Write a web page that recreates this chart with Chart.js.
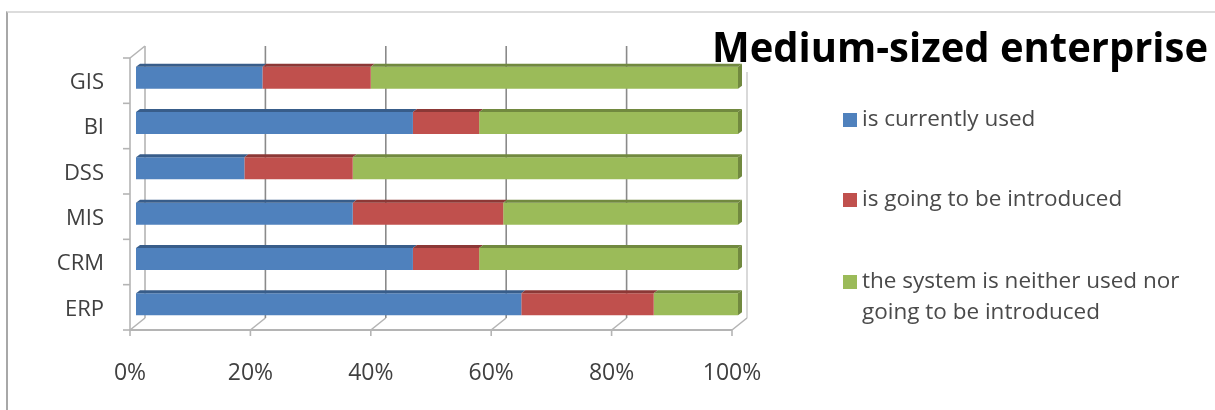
<!DOCTYPE html>
<html>
<head>
<meta charset="utf-8">
<script src="https://cdn.jsdelivr.net/npm/chart.js@4.4.1/dist/chart.umd.min.js"></script>
<style>
  html, body { margin: 0; padding: 0; background: #fff; }
  #wrap { position: relative; width: 1215px; height: 410px; overflow: hidden; }
  #frame { position: absolute; left: 6px; top: 11px; right: -2px; bottom: -2px;
           border-top: 2px solid #dcdcdc; border-left: 2px solid #a8a8a8; }
  canvas { position: absolute; left: 0; top: 0; }
</style>
</head>
<body>
<div id="wrap">
  <div id="frame"></div>
  <canvas id="chart" width="1215" height="410"></canvas>
</div>
<script>
// Data
const categories = ['GIS', 'BI', 'DSS', 'MIS', 'CRM', 'ERP'];
const currentlyUsed = [21, 46, 18, 36, 46, 64];
const goingToBeIntroduced = [18, 11, 18, 25, 11, 22];
const neitherUsedNorIntroduced = [61, 43, 64, 39, 43, 14];
const xTicks = [0, 20, 40, 60, 80, 100];
const titleText = 'Medium-sized enterprise';
const legendLines = [
    ['is currently used'],
    ['is going to be introduced'],
    ['the system is neither used nor', 'going to be introduced']
];

// Colours (front face / top face)
const fronts = ['#4f81bd', '#c0504d', '#9bbb59'];
const tops = ['#385d8a', '#8c3836', '#71893f'];

// 3D offsets relative to bar plane
const BACK = { dx: 9, dy: -9 };
const FRONT = { dx: -6, dy: 3 };
const BAR_DEPTH = { dx: 4, dy: -3 };

const line = (ctx, x1, y1, x2, y2) => {
    ctx.beginPath();
    ctx.moveTo(x1, y1);
    ctx.lineTo(x2, y2);
    ctx.stroke();
};

// Walls, floor and gridlines
const wallsPlugin = {
    id: 'walls',
    beforeDatasetsDraw(chart) {
        const { ctx, chartArea: a, scales: { x } } = chart;
        const x0 = x.getPixelForValue(0);
        const x100 = x.getPixelForValue(100);
        ctx.save();
        ctx.lineCap = 'butt';

        // back gridlines
        ctx.strokeStyle = '#8a8a8a';
        ctx.lineWidth = 1.6;
        xTicks.slice(1, -1).forEach(v => {
            const px = x.getPixelForValue(v) + BACK.dx;
            line(ctx, px, a.top + BACK.dy, px, a.bottom + BACK.dy);
        });

        // left wall
        ctx.strokeStyle = '#b4b4b4';
        ctx.lineWidth = 1.6;
        line(ctx, x0 + BACK.dx, a.top + BACK.dy, x0 + BACK.dx, a.bottom + BACK.dy);
        line(ctx, x0 + FRONT.dx, a.top + FRONT.dy, x0 + FRONT.dx, a.bottom + FRONT.dy);
        line(ctx, x0 + FRONT.dx, a.top + FRONT.dy, x0 + BACK.dx, a.top + BACK.dy);

        // right edge of back wall
        ctx.strokeStyle = '#d0d0d0';
        line(ctx, x100 + BACK.dx, a.top + 17, x100 + BACK.dx, a.bottom + BACK.dy);

        // floor
        ctx.strokeStyle = '#b4b4b4';
        xTicks.forEach(v => {
            const px = x.getPixelForValue(v);
            line(ctx, px + BACK.dx, a.bottom + BACK.dy, px + FRONT.dx, a.bottom + FRONT.dy);
            line(ctx, px + FRONT.dx, a.bottom + FRONT.dy, px + FRONT.dx, a.bottom + FRONT.dy + 6);
        });
        ctx.lineWidth = 2;
        line(ctx, x0 + FRONT.dx, a.bottom + FRONT.dy, x100 + FRONT.dx, a.bottom + FRONT.dy);

        // category ticks on the left
        ctx.lineWidth = 1.6;
        const band = (a.bottom - a.top) / categories.length;
        for (let i = 0; i <= categories.length; i++) {
            const py = a.top + FRONT.dy + i * band;
            line(ctx, x0 + FRONT.dx - 7, py, x0 + FRONT.dx, py);
        }
        ctx.restore();
    },
    afterDatasetsDraw(chart) {
        const { ctx } = chart;
        ctx.save();
        const last = chart.data.datasets.length - 1;
        chart.data.datasets.forEach((ds, di) => {
            chart.getDatasetMeta(di).data.forEach(el => {
                const left = Math.min(el.x, el.base);
                const right = Math.max(el.x, el.base);
                const top = el.y - el.height / 2;
                const bottom = el.y + el.height / 2;
                ctx.fillStyle = tops[di];
                ctx.beginPath();
                ctx.moveTo(left, top);
                ctx.lineTo(right, top);
                ctx.lineTo(right + BAR_DEPTH.dx, top + BAR_DEPTH.dy);
                ctx.lineTo(left + BAR_DEPTH.dx, top + BAR_DEPTH.dy);
                ctx.closePath();
                ctx.fill();
                if (di === last) {
                    ctx.beginPath();
                    ctx.moveTo(right, top);
                    ctx.lineTo(right + BAR_DEPTH.dx, top + BAR_DEPTH.dy);
                    ctx.lineTo(right + BAR_DEPTH.dx, bottom + BAR_DEPTH.dy);
                    ctx.lineTo(right, bottom);
                    ctx.closePath();
                    ctx.fill();
                }
            });
        });
        ctx.restore();
    }
};

// Title and legend on the right
const sidePlugin = {
    id: 'side',
    afterDraw(chart) {
        const { ctx } = chart;
        ctx.save();
        ctx.fillStyle = '#000';
        ctx.font = 'bold 42px "Open Sans"';
        ctx.textBaseline = 'alphabetic';
        ctx.textAlign = 'left';
        ctx.fillText(titleText, 712, 62, 496);

        const rows = [120, 200, 282];
        ctx.font = '22.5px "Open Sans"';
        ctx.textBaseline = 'middle';
        chart.data.datasets.forEach((ds, i) => {
            ctx.fillStyle = ds.backgroundColor;
            ctx.fillRect(843, rows[i] - 7, 14, 14);
            ctx.fillStyle = '#4a4a4a';
            legendLines[i].forEach((txt, k) => {
                ctx.fillText(txt, 862, rows[i] + k * 31);
            });
        });
        ctx.restore();
    }
};

const ctx = document.getElementById('chart').getContext('2d');
new Chart(ctx, {
    type: 'bar',
    data: {
        labels: categories,
        datasets: [
            { label: legendLines[0].join(' '), data: currentlyUsed, backgroundColor: fronts[0] },
            { label: legendLines[1].join(' '), data: goingToBeIntroduced, backgroundColor: fronts[1] },
            { label: legendLines[2].join(' '), data: neitherUsedNorIntroduced, backgroundColor: fronts[2] }
        ]
    },
    options: {
        indexAxis: 'y',
        responsive: false,
        animation: false,
        barPercentage: 0.486,
        categoryPercentage: 1,
        layout: { padding: { top: 55, right: 477, left: 0, bottom: 0 } },
        plugins: {
            legend: { display: false },
            title: { display: false },
            tooltip: { enabled: false }
        },
        scales: {
            x: {
                stacked: true,
                min: 0,
                max: 100,
                afterFit: (scale) => { scale.height = 83; },
                afterBuildTicks: (scale) => { scale.ticks = xTicks.map(v => ({ value: v })); },
                grid: { display: false, drawTicks: false },
                border: { display: false },
                ticks: {
                    padding: 33,
                    labelOffset: -6,
                    color: '#404040',
                    font: { family: 'Open Sans', size: 23 },
                    callback: (v) => v + '%'
                }
            },
            y: {
                stacked: true,
                afterFit: (scale) => { scale.width = 136; },
                grid: { display: false, drawTicks: false },
                border: { display: false },
                ticks: {
                    padding: 32,
                    labelOffset: 5,
                    color: '#404040',
                    font: { family: 'Open Sans', size: 22 }
                }
            }
        }
    },
    plugins: [wallsPlugin, sidePlugin]
});
</script>
</body>
</html>
